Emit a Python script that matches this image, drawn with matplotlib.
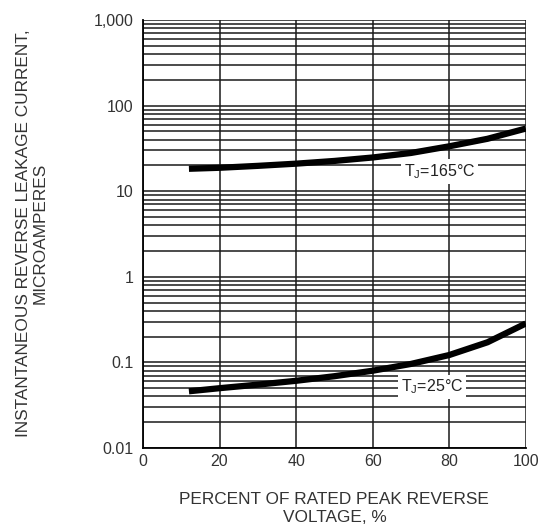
import matplotlib
matplotlib.use('Agg')
import matplotlib.pyplot as plt
from matplotlib.ticker import FixedLocator, LogLocator, NullFormatter

plt.rcParams['font.family'] = 'Liberation Sans'

# readings
pct = [12, 20, 30, 40, 50, 60, 70, 80, 90, 100]
i_165 = [18.3, 18.8, 19.8, 21.0, 22.6, 24.8, 28.0, 33.5, 41.0, 54.0]
i_25 = [0.046, 0.050, 0.055, 0.061, 0.069, 0.080, 0.096, 0.122, 0.172, 0.285]

x_ticks = [0, 20, 40, 60, 80, 100]
y_ticks = [0.01, 0.1, 1, 10, 100, 1000]
y_labels = ['0.01', '0.1', '1', '10', '100', '1,000']

fig = plt.figure(figsize=(5.5, 5.28), dpi=100)
ax = fig.add_axes([0.26, 0.1515, 0.696, 0.8105])

ax.set_yscale('log')
ax.set_xlim(0, 100)
ax.set_ylim(0.01, 1000)

ax.yaxis.set_major_locator(FixedLocator(y_ticks))
ax.yaxis.set_minor_locator(LogLocator(base=10, subs=range(2, 10)))
ax.yaxis.set_minor_formatter(NullFormatter())
ax.set_yticks(y_ticks)
ax.set_yticklabels(y_labels)
ax.set_xticks(x_ticks)

ax.grid(True, which='both', axis='y', color='#1a1a1a', lw=1.1)
ax.grid(True, which='major', axis='x', color='#1a1a1a', lw=1.1)
ax.tick_params(which='both', length=0, labelsize=11.5, colors='#333333')
ax.tick_params(axis='y', pad=7)
ax.tick_params(axis='x', pad=4)

for s in ['top', 'right']:
    ax.spines[s].set_visible(False)
ax.spines['left'].set_linewidth(1.3)
ax.spines['bottom'].set_linewidth(1.3)

ax.plot(pct, i_165, color='black', lw=4.5, solid_capstyle='butt', zorder=3)
ax.plot(pct, i_25, color='black', lw=4.5, solid_capstyle='butt', zorder=3)

box = dict(facecolor='white', edgecolor='none', pad=2)
ax.text(77.5, 17.0, 'T$_{\\mathregular{J}}$=165°C', fontsize=11.5, color='#222222',
        ha='center', va='center', bbox=box, zorder=4)
ax.text(75.5, 0.052, 'T$_{\\mathregular{J}}$=25°C', fontsize=11.5, color='#222222',
        ha='center', va='center', bbox=box, zorder=4)

ax.set_xlabel('PERCENT OF RATED PEAK REVERSE\nVOLTAGE, %', fontsize=12.4,
              color='#333333', linespacing=1.3)
ax.xaxis.set_label_coords(0.5, -0.102, transform=ax.transAxes)
ax.xaxis.label.set_va('top')
ax.set_ylabel('INSTANTANEOUS REVERSE LEAKAGE CURRENT,\nMICROAMPERES', fontsize=12.4,
              color='#333333', linespacing=1.15)
ax.yaxis.set_label_coords(-0.25, 0.502, transform=ax.transAxes)

fig.savefig('out.png', dpi=100)
